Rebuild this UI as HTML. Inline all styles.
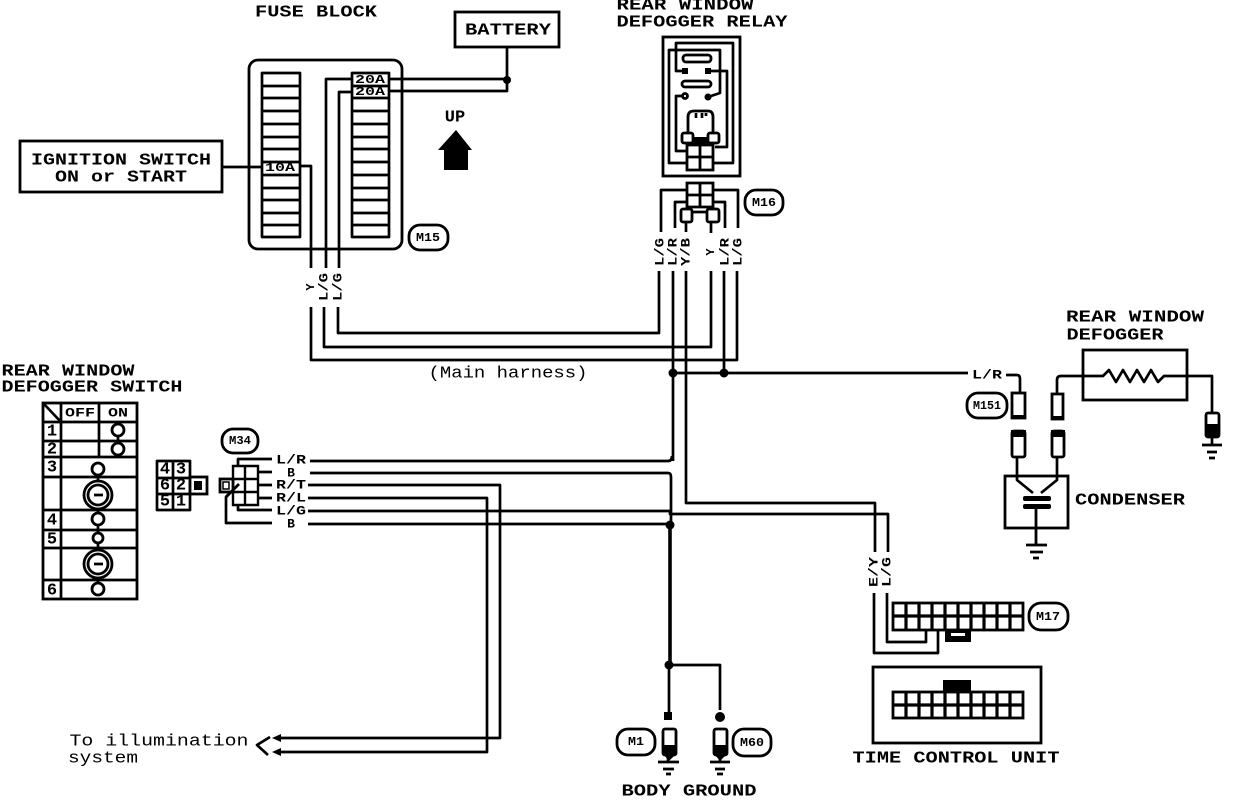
<!DOCTYPE html>
<html><head><meta charset="utf-8"><style>
html,body{margin:0;padding:0;background:#fff;width:1248px;height:800px;overflow:hidden}
svg{display:block}
text{font-family:"Liberation Mono",monospace;font-weight:700;fill:#000;text-anchor:middle;dominant-baseline:central}
.w{fill:none;stroke:#000;stroke-width:2.7;stroke-linejoin:round}
.b{fill:#fff;stroke:#000;stroke-width:2.8}
.f{fill:#000}
.t{font-size:17px}
.s{font-size:13px}
.x{font-size:12px}
</style></head><body>
<svg width="1248" height="800" viewBox="0 0 1248 800" xmlns="http://www.w3.org/2000/svg">
<!-- titles -->
<g transform="translate(0,1)">
<text class="t" x="316" y="12" textLength="122" lengthAdjust="spacingAndGlyphs">FUSE BLOCK</text>
<text class="t" x="685" y="5" textLength="137" lengthAdjust="spacingAndGlyphs">REAR WINDOW</text>
<text class="t" x="702" y="22" textLength="171" lengthAdjust="spacingAndGlyphs">DEFOGGER RELAY</text>
<text class="t" x="68" y="371" textLength="133" lengthAdjust="spacingAndGlyphs">REAR WINDOW</text>
<text class="t" x="92" y="387" textLength="181" lengthAdjust="spacingAndGlyphs">DEFOGGER SWITCH</text>
<text class="t" x="1135" y="317" textLength="138" lengthAdjust="spacingAndGlyphs">REAR WINDOW</text>
<text class="t" x="1115" y="335" textLength="97" lengthAdjust="spacingAndGlyphs">DEFOGGER</text>
<text class="t" x="1130" y="500" textLength="110" lengthAdjust="spacingAndGlyphs">CONDENSER</text>
<text class="t" x="956" y="758" textLength="207" lengthAdjust="spacingAndGlyphs">TIME CONTROL UNIT</text>
<text class="t" x="689" y="791" textLength="135" lengthAdjust="spacingAndGlyphs">BODY GROUND</text>
<text class="t" x="508" y="373" textLength="159" lengthAdjust="spacingAndGlyphs" style="font-weight:400">(Main harness)</text>
<text class="t" x="159" y="741" textLength="179" lengthAdjust="spacingAndGlyphs" style="font-weight:400">To illumination</text>
<text class="t" x="103" y="758" textLength="70" lengthAdjust="spacingAndGlyphs" style="font-weight:400">system</text>
</g>

<!-- battery -->
<rect class="b" x="455" y="12" width="104" height="35"/>
<text class="t" x="508" y="31" textLength="86" lengthAdjust="spacingAndGlyphs">BATTERY</text>
<!-- ignition -->
<rect class="b" x="20" y="141" width="202" height="51"/>
<text class="t" x="121" y="161" textLength="180" lengthAdjust="spacingAndGlyphs">IGNITION SWITCH</text>
<text class="t" x="121" y="178" textLength="132" lengthAdjust="spacingAndGlyphs">ON or START</text>
<!-- up arrow -->
<text class="t" x="455" y="118">UP</text>
<polygon class="f" points="456,130 438,150 444,150 444,170 468,170 468,150 472,150"/>

<!-- fuse block -->
<rect class="b" x="249" y="60" width="153" height="189" rx="9"/>
<path class="w" d="M262 73H300V237H262ZM262 86H300M262 98H300M262 111H300M262 124H300M262 137H300M262 149H300M262 162H300M262 175H300M262 188H300M262 200H300M262 213H300M262 225H300"/>
<path class="w" d="M352 73H389V237H352ZM352 86H389M352 98H389M352 111H389M352 124H389M352 137H389M352 149H389M352 162H389M352 175H389M352 188H389M352 200H389M352 213H389M352 225H389"/>
<text class="x" x="280" y="168" textLength="30" lengthAdjust="spacingAndGlyphs">10A</text>
<text class="x" x="370" y="80" textLength="30" lengthAdjust="spacingAndGlyphs">20A</text>
<text class="x" x="370" y="92" textLength="30" lengthAdjust="spacingAndGlyphs">20A</text>
<path class="w" d="M222 167H262M300 166H311V268M352 79H326V268M352 92H339V268M389 79H507M389 91H507V47"/>
<circle class="f" cx="507" cy="80" r="4"/>
<rect class="b" x="409" y="225" width="39" height="25" rx="11"/>
<text class="x" x="428" y="238" textLength="24" lengthAdjust="spacingAndGlyphs">M15</text>

<!-- labels below fuse block -->
<text class="x" transform="translate(311,287) rotate(-90)">Y</text>
<text class="s" transform="translate(324,287) rotate(-90)" textLength="28" lengthAdjust="spacingAndGlyphs">L/G</text>
<text class="s" transform="translate(338,287) rotate(-90)" textLength="28" lengthAdjust="spacingAndGlyphs">L/G</text>
<path class="w" d="M311 307V360H737V271M324 307V347H711V271M338 307V333H659V271"/>

<!-- relay -->
<rect class="b" x="663" y="37" width="77" height="139"/>
<path class="w" d="M685 71H676V43H733V163H713M708 97L720 93V50H669V163H687M708 71H727V147H715M685 96H676V151H688"/>
<rect x="683" y="55" width="28" height="7" rx="3" class="b"/>
<rect x="682" y="81" width="29" height="6" rx="3" class="b"/>
<rect class="f" x="682" y="68" width="6" height="6"/><rect class="f" x="705" y="68" width="6" height="6"/>
<circle class="b" cx="685" cy="96" r="2.5"/><circle class="f" cx="708" cy="97" r="3.5"/>
<path class="b" d="M688 135V117Q688 111 694 111H708Q713 111 713 117V135"/>
<path class="w" d="M696 113V118M702 113V118M706 113V116"/>
<rect class="f" x="693" y="137" width="15" height="8"/>
<rect class="b" x="682" y="133" width="11" height="10" rx="2"/>
<rect class="b" x="708" y="133" width="11" height="10" rx="2"/>
<path class="b" d="M687 145H713V170H687ZM700 145V170M687 157H713"/>

<!-- M16 connector -->
<path class="w" d="M687 190H661V232M687 202H675V228M713 190H738V228M713 202H725V228M686 222V232M711 222V233M692 212H707"/>
<path class="b" d="M687 183H713V207H687ZM700 183V207M687 195H713"/>
<rect class="b" x="681" y="209" width="11" height="13" rx="2"/>
<rect class="b" x="707" y="209" width="12" height="13" rx="2"/>
<rect class="b" x="745" y="190" width="38" height="25" rx="11"/>
<text class="x" x="764" y="203" textLength="24" lengthAdjust="spacingAndGlyphs">M16</text>
<text class="s" transform="translate(660,252) rotate(-90)" textLength="28" lengthAdjust="spacingAndGlyphs">L/G</text>
<text class="s" transform="translate(673,252) rotate(-90)" textLength="28" lengthAdjust="spacingAndGlyphs">L/R</text>
<text class="s" transform="translate(686,252) rotate(-90)" textLength="28" lengthAdjust="spacingAndGlyphs">Y/B</text>
<text class="x" transform="translate(711,252) rotate(-90)">Y</text>
<text class="s" transform="translate(725,252) rotate(-90)" textLength="28" lengthAdjust="spacingAndGlyphs">L/R</text>
<text class="s" transform="translate(738,252) rotate(-90)" textLength="28" lengthAdjust="spacingAndGlyphs">L/G</text>

<!-- harness wires -->
<path class="w" d="M673 271V461M724 271V373M686 271V503H875V552M673 373H968M310 461H668Q672 461 672 456M310 473H668Q671 473 671 477V525"/>
<path class="w" d="M308 485H500V738H276M308 498H487V752H276M308 511H670V514H888V552M308 524H670"/>
<path d="M670 525V665" stroke="#000" stroke-width="3.6" fill="none"/>
<circle class="f" cx="673" cy="373" r="4.5"/><circle class="f" cx="724" cy="373" r="4.5"/>
<circle class="f" cx="670" cy="525" r="4.5"/><circle class="f" cx="669" cy="665" r="4.5"/>

<!-- illumination arrows -->
<path class="w" d="M270 737L257 745L268 755"/>
<polygon class="f" points="272,738 281,734 281,742"/><polygon class="f" points="272,752 281,748 281,756"/>

<!-- defogger & condenser -->
<text class="s" x="987" y="375" textLength="30" lengthAdjust="spacingAndGlyphs">L/R</text>
<path class="w" d="M1006 375H1017Q1020 375 1020 379V393M1057 394V380Q1057 376 1061 376H1103L1109 370L1116 382L1123 370L1130 382L1137 370L1144 382L1151 370L1158 382L1164 376H1212V413"/>
<rect class="b" x="1083" y="350" width="104" height="50" style="fill:none"/>
<rect class="b" x="1012" y="393" width="13" height="25"/><rect class="f" x="1011" y="415" width="15" height="3"/>
<rect class="b" x="1052" y="394" width="11" height="25"/><rect class="f" x="1051" y="416" width="13" height="3"/>
<rect class="b" x="1012" y="431" width="13" height="26" rx="2"/><rect class="f" x="1011" y="430" width="15" height="7"/>
<rect class="b" x="1052" y="431" width="12" height="26" rx="2"/><rect class="f" x="1051" y="430" width="14" height="7"/>
<rect class="b" x="967" y="393" width="40" height="25" rx="11"/>
<text class="x" x="987" y="406" textLength="28" lengthAdjust="spacingAndGlyphs">M151</text>
<rect class="b" x="1206" y="413" width="13" height="24" rx="2"/><rect class="f" x="1206" y="424" width="13" height="13"/>
<path class="w" d="M1212 437V445M1202 445H1222M1207 452H1217M1209 458H1215"/>
<rect class="b" x="1005" y="476" width="63" height="52"/>
<path class="w" d="M1017 457V480L1033 493M1057 457V480L1041 493"/>
<rect class="f" x="1023" y="496" width="28" height="5" rx="2"/><rect class="f" x="1023" y="504" width="28" height="5" rx="2"/>
<path class="w" d="M1036 508V545M1026 545H1047M1030 552H1043M1033 558H1039" style="stroke-width:2.8"/>

<!-- M17 -->
<path class="w" d="M874 593V653H938V630M887 593V642H926V630"/>
<text class="s" transform="translate(874,572) rotate(-90)" textLength="30" lengthAdjust="spacingAndGlyphs">E/Y</text>
<text class="s" transform="translate(887,572) rotate(-90)" textLength="30" lengthAdjust="spacingAndGlyphs">L/G</text>
<rect class="b" x="893" y="603" width="130" height="27"/>
<path class="w" d="M893 616H1023M906 603V630M919 603V630M932 603V630M945 603V630M958 603V630M971 603V630M984 603V630M997 603V630M1010 603V630" style="stroke-width:3.2"/>
<rect class="f" x="945" y="630" width="26" height="12"/><rect x="951" y="633" width="14" height="3" fill="#fff"/>
<rect class="b" x="1029" y="603" width="39" height="27" rx="12"/>
<text class="x" x="1048" y="617" textLength="24" lengthAdjust="spacingAndGlyphs">M17</text>

<!-- TCU -->
<rect class="b" x="873" y="667" width="168" height="76"/>
<rect class="f" x="943" y="680" width="28" height="12"/>
<rect class="b" x="893" y="692" width="130" height="26"/>
<path class="w" d="M893 705H1023M906 692V718M919 692V718M932 692V718M945 692V718M958 692V718M971 692V718M984 692V718M997 692V718M1010 692V718" style="stroke-width:3.2"/>

<!-- body ground -->
<path class="w" d="M669 665H720V710M669 665V712M668 755V762M720 755V762"/>
<rect class="f" x="664" y="712" width="8" height="8"/><circle class="f" cx="720" cy="717" r="5"/>
<rect class="b" x="663" y="729" width="13" height="26" rx="2"/><rect class="f" x="663" y="745" width="13" height="10"/>
<rect class="b" x="714" y="729" width="13" height="26" rx="2"/><rect class="f" x="714" y="745" width="13" height="10"/>
<polygon class="f" points="664,755 675,755 669,761"/><polygon class="f" points="715,755 726,755 720,761"/>
<path class="w" d="M658 762H679M663 769H674M666 774H671M710 762H730M715 769H725M717 774H723"/>
<rect class="b" x="617" y="729" width="38" height="26" rx="11"/>
<text class="x" x="636" y="742" textLength="16" lengthAdjust="spacingAndGlyphs">M1</text>
<rect class="b" x="733" y="729" width="38" height="27" rx="11"/>
<text class="x" x="752" y="743" textLength="24" lengthAdjust="spacingAndGlyphs">M60</text>

<!-- switch table -->
<rect class="b" x="43" y="403" width="94" height="196" style="fill:none"/>
<path class="w" d="M43 403L61 422M61 403V599M99 403V457M43 422H137M43 441H137M43 457H137M43 477H137M43 510H137M43 530H137M43 548H137M43 580H137"/>
<text class="s" x="80" y="413" textLength="30" lengthAdjust="spacingAndGlyphs">OFF</text>
<text class="s" x="118" y="413" textLength="20" lengthAdjust="spacingAndGlyphs">ON</text>
<text class="t" x="52" y="432">1</text><text class="t" x="52" y="450">2</text><text class="t" x="52" y="468">3</text>
<text class="t" x="52" y="521">4</text><text class="t" x="52" y="540">5</text><text class="t" x="52" y="591">6</text>
<path class="w" d="M118 430V449M98 469V589"/>
<circle class="b" cx="118" cy="430" r="6"/><circle class="b" cx="118" cy="449" r="6"/>
<circle class="b" cx="98" cy="469" r="6"/><circle class="b" cx="98" cy="519" r="6"/>
<circle class="b" cx="98" cy="538" r="5"/><circle class="b" cx="98" cy="589" r="6"/>
<circle class="b" cx="98" cy="495" r="14"/><circle class="b" cx="98" cy="495" r="10"/>
<circle class="b" cx="98" cy="564" r="14"/><circle class="b" cx="98" cy="564" r="10"/>
<path class="w" d="M94 495H103M94 564H103"/>
<path class="w" d="M157 461H190V510H157ZM173 461V510M157 478H190M157 494H190"/>
<rect class="b" x="190" y="477" width="17" height="17"/><rect class="f" x="194" y="481" width="8" height="9"/>
<text class="t" x="165" y="470">4</text><text class="t" x="181" y="470">3</text>
<text class="t" x="165" y="486">6</text><text class="t" x="181" y="486">2</text>
<text class="t" x="165" y="502">5</text><text class="t" x="181" y="502">1</text>

<!-- M34 -->
<rect class="b" x="222" y="429" width="36" height="24" rx="11"/>
<text class="x" x="240" y="441" textLength="22" lengthAdjust="spacingAndGlyphs">M34</text>
<path class="w" d="M238 466V459H272M258 472H272M258 485H272M258 498H272M238 505V510H272M239 484L226 497V523H272"/>
<path class="b" d="M233 466H258V505H233ZM245 466V505M233 479H258M233 492H258" style="stroke-width:2.4"/>
<rect class="b" x="220" y="479" width="13" height="13"/><rect x="223" y="482" width="6" height="7" fill="#fff" stroke="#000" stroke-width="1.5"/>
<path class="w" d="M239 484L226 497"/>
<text class="s" x="291" y="460" textLength="30" lengthAdjust="spacingAndGlyphs">L/R</text>
<text class="s" x="291" y="473">B</text>
<text class="s" x="291" y="485" textLength="30" lengthAdjust="spacingAndGlyphs">R/T</text>
<text class="s" x="291" y="498" textLength="30" lengthAdjust="spacingAndGlyphs">R/L</text>
<text class="s" x="291" y="511" textLength="30" lengthAdjust="spacingAndGlyphs">L/G</text>
<text class="s" x="291" y="524">B</text>
</svg>
</body></html>
